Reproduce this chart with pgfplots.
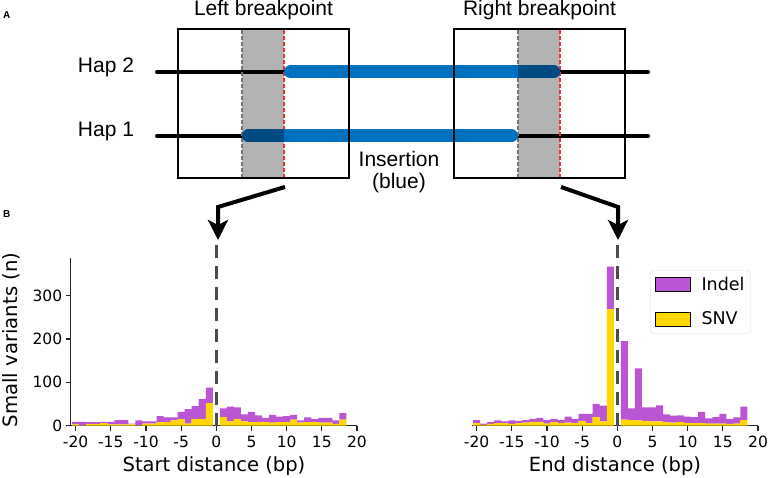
\documentclass[border=0pt]{standalone}
\usepackage{fontspec}
\setmainfont{DejaVu Sans}
\newfontfamily\arial{Liberation Sans}
\usepackage{pgfplots}
\pgfplotsset{compat=1.18}
\usepackage{pgfplotstable}
\usetikzlibrary{arrows.meta}
\definecolor{indel}{RGB}{186,85,211}
\definecolor{snv}{RGB}{255,215,0}
\definecolor{hapblue}{RGB}{0,112,192}
\definecolor{darkblue}{RGB}{0,76,130}
\definecolor{band}{RGB}{179,179,179}
\definecolor{redline}{RGB}{230,50,50}

% Start distance (left breakpoint)
\pgfplotstableread{
x snv indel
-20 3 6
-19 1 8
-18 4 4
-17 4 4
-16 6 3
-15 3 6
-14 3 10
-13 3 10
-12 3 2
-11 1 11
-10 5 5
-9 5 5
-8 8 14
-7 8 11
-6 12 7
-5 15 17
-4 5 33
-3 16 29
-2 16 45
-1 52 36
1 20 20
2 10 34
3 16 26
4 10 16
5 8 24
6 8 16
7 9 9
8 7 18
9 8 13
10 8 14
11 14 11
12 7 5
13 8 11
14 8 7
15 7 11
16 7 11
17 4 8
18 14 15
}\leftdata

% End distance (right breakpoint)
\pgfplotstableread{
x snv indel
-20 6 7
-19 2 3
-18 4 4
-17 6 6
-16 6 4
-15 4 8
-14 6 5
-13 7 6
-12 9 7
-11 9 9
-10 5 8
-9 8 8
-8 6 7
-7 7 14
-6 6 10
-5 11 16
-4 6 21
-3 20 30
-2 10 36
-1 269 98
1 14 181
2 13 27
3 12 120
4 11 31
5 10 32
6 10 37
7 8 18
8 7 16
9 8 16
10 6 15
11 6 14
12 6 26
13 5 12
14 5 15
15 5 22
16 4 12
17 5 14
18 13 31
}\rightdata

\pgfplotsset{
  histstyle/.style={
    scale only axis, width=286.3pt, height=167.4pt,
    xmin=-20.7, xmax=20, ymin=0, ymax=386,
    axis x line*=bottom,
    xtick={-20,-15,...,20},
    xticklabels={-20,-15,-10,-5,0,5,10,15,20},
    tick align=outside, major tick length=5pt,
    ticklabel style={font=\fontsize{15.5}{18}\selectfont},
    xticklabel style={yshift=-1.5pt},
    /pgf/number format/assume math mode=true,
    axis line style={black!85, line width=1.1pt},
    every tick/.style={black!85, line width=1.1pt},
    ybar stacked, bar width=1,
    clip=false,
  },
}
\tikzset{zeroline/.style={black!70, line width=2.6pt, dash pattern=on 13pt off 8pt}}

\begin{document}
\begin{tikzpicture}[x=1pt,y=1pt]
\path[use as bounding box] (0,0) rectangle (768,478);

% ---------- panel A schematic ----------
\fill[band] (242,300) rectangle (284,449);
\fill[band] (518,300) rectangle (560,449);
\draw[line width=4pt, line cap=round] (157,406) -- (284,406);
\draw[line width=4pt, line cap=round] (560,406) -- (648,406);
\draw[line width=4pt, line cap=round] (157,342) -- (242,342);
\draw[line width=4pt, line cap=round] (518,342) -- (648,342);
\draw[black!55, line width=1.5pt, dash pattern=on 4pt off 2pt] (242,300) -- (242,449);
\draw[black!55, line width=1.5pt, dash pattern=on 4pt off 2pt] (518,300) -- (518,449);
\draw[redline, line width=1.5pt, dash pattern=on 4pt off 2pt] (284,300) -- (284,449);
\draw[redline, line width=1.5pt, dash pattern=on 4pt off 2pt] (560,300) -- (560,449);
\draw[hapblue, line width=13pt, line cap=round] (290.5,406) -- (553.5,406);
\draw[hapblue, line width=13pt, line cap=round] (248.5,342) -- (511.5,342);
\begin{scope}
  \clip (518,300) rectangle (560,449);
  \draw[darkblue, line width=13pt, line cap=round] (290.5,406) -- (553.5,406);
\end{scope}
\begin{scope}
  \clip (242,300) rectangle (284,449);
  \draw[darkblue, line width=13pt, line cap=round] (248.5,342) -- (511.5,342);
\end{scope}
\draw[line width=2pt] (178,300) rectangle (349,449);
\draw[line width=2pt] (454,300) rectangle (625,449);

\begin{scope}[every node/.style={font=\arial\fontsize{21}{24}\selectfont, inner sep=0pt, anchor=base}]
  \node at (263.5,462) {Left breakpoint};
  \node at (539.5,462) {Right breakpoint};
  \node at (106,405) {Hap 2};
  \node at (106,341) {Hap 1};
  \node at (399,311) {Insertion};
  \node at (399,289) {(blue)};
\end{scope}
\node[font=\arial\bfseries\fontsize{10}{12}\selectfont, inner sep=0pt, anchor=base west] at (3,459) {A};
\node[font=\arial\bfseries\fontsize{10}{12}\selectfont, inner sep=0pt, anchor=base west] at (3,260) {B};

\draw[line width=4pt, line join=miter, -{Stealth[length=20pt,width=20pt,inset=5pt]}] (285,291) -- (218,271) -- (218,238);
\draw[line width=4pt, line join=miter, -{Stealth[length=20pt,width=20pt,inset=5pt]}] (561,291) -- (618,271) -- (618,238);

% ---------- panel B histograms ----------
\begin{axis}[histstyle, at={(70.7pt,52.3pt)}, anchor=south west,
  axis y line*=left, ytick={0,100,200,300}]
  \addplot[fill=snv, draw=none] table[x=x,y=snv]{\leftdata};
  \addplot[fill=indel, draw=none] table[x=x,y=indel]{\leftdata};
  \draw[zeroline] (axis cs:0,417) -- (axis cs:0,0);
\end{axis}

\begin{axis}[histstyle, at={(471.7pt,52.3pt)}, anchor=south west,
  axis y line=none,
  legend image code/.code={\draw[#1, draw=black, line width=1pt, sharp corners] (0pt,-7pt) rectangle (35pt,7pt);},
  legend style={at={(0.9745,0.93)}, anchor=north east, draw=black!15, rounded corners=3pt,
    font=\fontsize{17.5}{20}\selectfont, row sep=16pt, inner xsep=4pt, inner ysep=5pt,
    cells={anchor=west}, /tikz/every odd column/.append style={column sep=9pt}},
  ]
  \addlegendimage{fill=indel}
  \addlegendentry{Indel}
  \addlegendimage{fill=snv}
  \addlegendentry{SNV}
  \addplot[fill=snv, draw=none] table[x=x,y=snv]{\rightdata};
  \addplot[fill=indel, draw=none] table[x=x,y=indel]{\rightdata};
  \draw[zeroline] (axis cs:0,417) -- (axis cs:0,0);
\end{axis}

\node[rotate=90, font=\fontsize{19.7}{24}\selectfont] at (11,138) {Small variants (n)};
\node[font=\fontsize{19.5}{24}\selectfont] at (214,12) {Start distance (bp)};
\node[font=\fontsize{19.5}{24}\selectfont] at (615,12) {End distance (bp)};
\end{tikzpicture}
\end{document}
